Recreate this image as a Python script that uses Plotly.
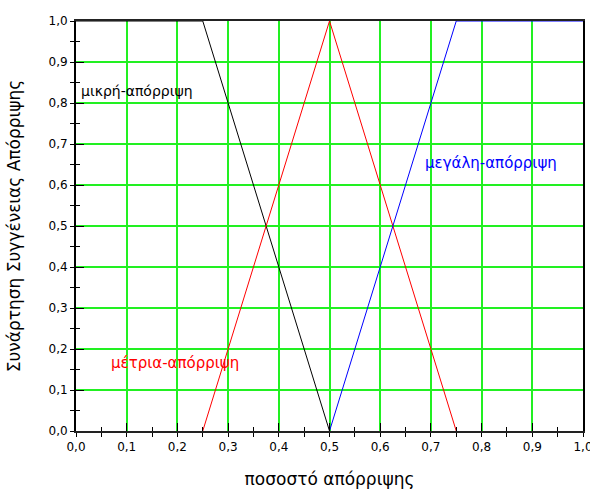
import plotly.graph_objects as go

# Membership functions for rejection rate (ποσοστό απόρριψης)
small_x = [0.0, 0.25, 0.5]
small_y = [1.0, 1.0, 0.0]
medium_x = [0.25, 0.5, 0.75]
medium_y = [0.0, 1.0, 0.0]
large_x = [0.5, 0.75, 1.0]
large_y = [0.0, 1.0, 1.0]

labels = ["μικρή-απόρριψη", "μέτρια-απόρριψη", "μεγάλη-απόρριψη"]
label_x = [0.006, 0.065, 0.685]
label_y = [0.83, 0.165, 0.653]
label_colors = ["black", "red", "blue"]
label_sizes = [14, 15, 15]

tick_vals = [i / 10 for i in range(11)]

font_family = "DejaVu Sans, Verdana, sans-serif"
grid_color = "#22f022"

fig = go.Figure()
fig.add_trace(go.Scatter(x=small_x, y=small_y, mode="lines",
                         line=dict(color="black", width=1)))
fig.add_trace(go.Scatter(x=medium_x, y=medium_y, mode="lines",
                         line=dict(color="red", width=1)))
fig.add_trace(go.Scatter(x=large_x, y=large_y, mode="lines",
                         line=dict(color="blue", width=1)))
# carrier for the overlay axes that draw the inner half of each tick
fig.add_trace(go.Scatter(x=[0, 1], y=[0, 1], mode="markers", xaxis="x2", yaxis="y2",
                         marker=dict(opacity=0), hoverinfo="skip"))

for text, tx, ty, col, sz in zip(labels, label_x, label_y, label_colors, label_sizes):
    fig.add_annotation(x=tx, y=ty, text=text, showarrow=False, xanchor="left",
                       yanchor="middle", font=dict(family=font_family, size=sz, color=col))

common = dict(range=[0, 1], tickvals=tick_vals, tickformat=".1f", ticklen=4,
              tickcolor="black", tickwidth=1, zeroline=False, automargin=False,
              ticklabeloverflow="allow")

fig.update_layout(
    width=590, height=492,
    margin=dict(l=76, r=7, t=21, b=61),
    paper_bgcolor="white", plot_bgcolor="white",
    showlegend=False,
    separators=",.",
    font=dict(family=font_family, size=12, color="black"),
    xaxis=dict(**common, ticks="outside", showgrid=True, gridcolor=grid_color, gridwidth=2,
               showline=True, linecolor="#222", linewidth=2, mirror=True,
               minor=dict(dtick=0.05, ticks="outside", ticklen=4, tickcolor="black"),
               title=dict(text="ποσοστό απόρριψης", font=dict(size=17), standoff=20),
               tickfont=dict(size=12)),
    yaxis=dict(**common, ticks="outside", showgrid=True, gridcolor=grid_color, gridwidth=2,
               showline=True, linecolor="black", linewidth=2, mirror=True,
               minor=dict(dtick=0.05, ticks="outside", ticklen=4, tickcolor="black"),
               title=dict(text="Συνάρτηση Συγγένειας Απόρριψης", font=dict(size=17), standoff=24),
               tickfont=dict(size=12)),
    xaxis2=dict(range=[0, 1], tickvals=tick_vals, ticks="inside", ticklen=8, tickcolor="black",
                showticklabels=False, showgrid=False, zeroline=False, overlaying="x",
                anchor="y2", automargin=False,
                minor=dict(dtick=0.05, ticks="inside", ticklen=4, tickcolor="black")),
    yaxis2=dict(range=[0, 1], tickvals=tick_vals, ticks="inside", ticklen=8, tickcolor="black",
                showticklabels=False, showgrid=False, zeroline=False, overlaying="y",
                anchor="x2", automargin=False,
                minor=dict(dtick=0.05, ticks="inside", ticklen=4, tickcolor="black")),
)

fig.write_html("out.html")
